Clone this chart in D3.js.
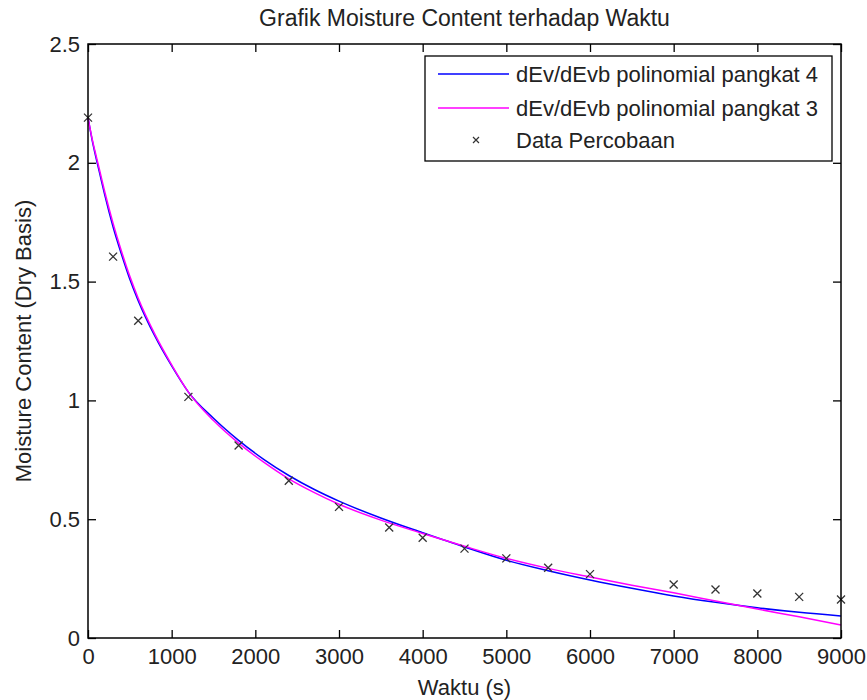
<!DOCTYPE html>
<html>
<head>
<meta charset="utf-8">
<script src="https://cdn.jsdelivr.net/npm/d3@7"></script>
<style>
  body { margin: 0; background: #fff; }
  svg { display: block; font-family: "Liberation Sans", Arial, sans-serif; }
</style>
</head>
<body>
<svg width="867" height="700"></svg>
<script>
// experiment data (waktu in s, moisture content dry basis)
const dataTime = [0, 300, 600, 1200, 1800, 2400, 3000, 3600, 4000, 4500, 5000, 5500, 6000, 7000, 7500, 8000, 8500, 9000]
const dataMC = [2.19, 1.605, 1.335, 1.015, 0.81, 0.662, 0.552, 0.465, 0.422, 0.376, 0.335, 0.296, 0.269, 0.225, 0.204, 0.187, 0.173, 0.162]

// model curves
const curveTime = [0, 50, 100, 150, 200, 300, 400, 500, 600, 800, 1000, 1200, 1500, 1800, 2100, 2400, 2700, 3000, 3500, 4000, 4500, 5000, 5500, 6000, 6500, 7000, 7500, 8000, 8500, 9000]
const poly4 = [2.19, 2.095, 2.015, 1.94, 1.865, 1.73, 1.615, 1.51, 1.42, 1.27, 1.145, 1.035, 0.925, 0.832, 0.752, 0.684, 0.626, 0.576, 0.505, 0.443, 0.383, 0.327, 0.283, 0.244, 0.209, 0.177, 0.15, 0.127, 0.108, 0.093]
const poly3 = [2.19, 2.1, 2.025, 1.952, 1.878, 1.745, 1.628, 1.522, 1.43, 1.278, 1.15, 1.035, 0.915, 0.82, 0.74, 0.67, 0.613, 0.563, 0.496, 0.44, 0.386, 0.335, 0.293, 0.257, 0.222, 0.19, 0.156, 0.122, 0.089, 0.055]

const xTicks = [0, 1000, 2000, 3000, 4000, 5000, 6000, 7000, 8000, 9000]
const yTicks = [0, 0.5, 1, 1.5, 2, 2.5]

const legendLabels = ['dEv/dEvb polinomial pangkat 4', 'dEv/dEvb polinomial pangkat 3', 'Data Percobaan']

const svg = d3.select('svg')
const fontSize = 22

const plotLeft = 88, plotRight = 841, plotTop = 44, plotBottom = 638

const x = d3.scaleLinear().domain([0, 9000]).range([plotLeft, plotRight])
const y = d3.scaleLinear().domain([0, 2.5]).range([plotBottom, plotTop])

// axes, MATLAB style ticks pointing inward on all sides
svg.append('g')
  .attr('transform', `translate(0,${plotBottom})`)
  .call(d3.axisBottom(x).tickValues(xTicks).tickFormat(d3.format('d')).tickSizeInner(-8).tickSizeOuter(0).tickPadding(10))
svg.append('g')
  .attr('transform', `translate(0,${plotTop})`)
  .call(d3.axisTop(x).tickValues(xTicks).tickFormat('').tickSizeInner(-8).tickSizeOuter(0))
svg.append('g')
  .attr('transform', `translate(${plotLeft},0)`)
  .call(d3.axisLeft(y).tickValues(yTicks).tickFormat(d3.format('')).tickSizeInner(-8).tickSizeOuter(0).tickPadding(8))
svg.append('g')
  .attr('transform', `translate(${plotRight},0)`)
  .call(d3.axisRight(y).tickValues(yTicks).tickFormat('').tickSizeInner(-8).tickSizeOuter(0))

svg.selectAll('.domain').remove()
svg.selectAll('.tick line').attr('stroke', '#000').attr('stroke-width', 1.3)
svg.selectAll('.tick text')
  .attr('font-family', '"Liberation Sans", Arial, sans-serif')
  .attr('font-size', fontSize)
  .attr('fill', '#222')

// curves
const line = d3.line()
  .x((d, i) => x(curveTime[i]))
  .y(d => y(d))
  .curve(d3.curveMonotoneX)

svg.append('path')
  .attr('d', line(poly4))
  .attr('fill', 'none')
  .attr('stroke', '#0000ff')
  .attr('stroke-width', 1.5)

svg.append('path')
  .attr('d', line(poly3))
  .attr('fill', 'none')
  .attr('stroke', '#ff00ff')
  .attr('stroke-width', 1.5)

// experiment markers
const cross = 4
svg.append('g')
  .selectAll('path')
  .data(dataMC)
  .join('path')
  .attr('d', (d, i) => {
    const cx = x(dataTime[i]), cy = y(d)
    return `M${cx - cross},${cy - cross}L${cx + cross},${cy + cross}M${cx - cross},${cy + cross}L${cx + cross},${cy - cross}`
  })
  .attr('stroke', '#333')
  .attr('stroke-width', 1.3)

// plot box
svg.append('rect')
  .attr('x', plotLeft).attr('y', plotTop)
  .attr('width', plotRight - plotLeft).attr('height', plotBottom - plotTop)
  .attr('fill', 'none')
  .attr('stroke', '#000')
  .attr('stroke-width', 1.5)

// legend
const legend = svg.append('g')
legend.append('rect')
  .attr('x', 425).attr('y', 56)
  .attr('width', 407).attr('height', 105)
  .attr('fill', '#fff')
  .attr('stroke', '#000')
  .attr('stroke-width', 1.3)

const rowY = [74, 108, 140]
const legendColors = ['#0000ff', '#ff00ff']
legendColors.forEach((c, i) => {
  legend.append('line')
    .attr('x1', 438).attr('x2', 509)
    .attr('y1', rowY[i]).attr('y2', rowY[i])
    .attr('stroke', c)
    .attr('stroke-width', 1.5)
})
legend.append('path')
  .attr('d', `M${476 - 3},${rowY[2] - 3}L${476 + 3},${rowY[2] + 3}M${476 - 3},${rowY[2] + 3}L${476 + 3},${rowY[2] - 3}`)
  .attr('stroke', '#333')
  .attr('stroke-width', 1.2)

legend.selectAll('text')
  .data(legendLabels)
  .join('text')
  .attr('x', 516)
  .attr('y', (d, i) => rowY[i])
  .attr('dy', '0.35em')
  .attr('font-size', fontSize)
  .attr('fill', '#222')
  .text(d => d)

// title and axis labels
svg.append('text')
  .attr('x', (plotLeft + plotRight) / 2)
  .attr('y', 26)
  .attr('text-anchor', 'middle')
  .attr('font-size', 23)
  .attr('fill', '#222')
  .text('Grafik Moisture Content terhadap Waktu')

svg.append('text')
  .attr('x', (plotLeft + plotRight) / 2)
  .attr('y', 695)
  .attr('text-anchor', 'middle')
  .attr('font-size', fontSize)
  .attr('fill', '#222')
  .text('Waktu (s)')

svg.append('text')
  .attr('transform', `translate(31,${(plotTop + plotBottom) / 2}) rotate(-90)`)
  .attr('text-anchor', 'middle')
  .attr('font-size', fontSize)
  .attr('fill', '#222')
  .text('Moisture Content (Dry Basis)')
</script>
</body>
</html>
